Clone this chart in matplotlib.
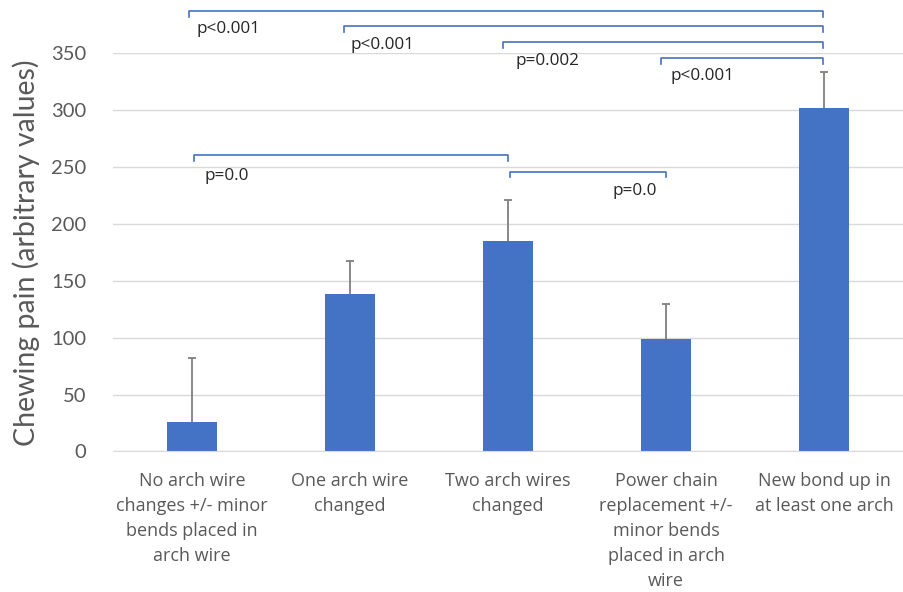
import numpy as np
import matplotlib.pyplot as plt

# data
categories = ["No arch wire\nchanges +/- minor\nbends placed in\narch wire",
              "One arch wire\nchanged",
              "Two arch wires\nchanged",
              "Power chain\nreplacement +/-\nminor bends\nplaced in arch\nwire",
              "New bond up in\nat least one arch"]
pain = [25.5, 138.5, 185, 99, 301.5]
err_up = [56.5, 29, 36, 31, 32]

# significance brackets: left x, right x, height, label, label x, label y
br_left = [-0.02, 0.96, 1.97, 2.97, 0.01, 2.01]
br_right = [3.99, 3.99, 3.99, 3.99, 2.0, 3.0]
br_y = [387, 374, 360, 346, 260.5, 246]
br_text = ["p<0.001", "p<0.001", "p=0.002", "p<0.001", "p=0.0", "p=0.0"]
txt_x = [0.03, 1.0, 2.05, 3.03, 0.08, 2.66]
txt_y = [371.5, 357.5, 343, 330, 242, 229]

blue = "#4472C4"
grey = "#595959"

fig = plt.figure(figsize=(9.04, 5.92), dpi=100)
ax = fig.add_axes([0.125, 0.2375, 0.874, 0.6725])

x = np.arange(len(categories))
ax.bar(x, pain, width=0.315, color=blue, zorder=2)
eb = ax.errorbar(x, pain, yerr=[np.zeros(len(pain)), err_up], fmt="none",
                 ecolor="#7f7f7f", elinewidth=1.3, capsize=3, capthick=1.3, zorder=3)
eb[1][0].set_visible(False)  # no cap on the lower side

ax.set_xlim(-0.5, 4.5)
ax.set_ylim(0, 350)
ax.set_yticks(range(0, 351, 50))
ax.yaxis.grid(True, color="#d9d9d9", lw=1)
ax.set_axisbelow(True)
for s in ["top", "right", "left"]:
    ax.spines[s].set_visible(False)
ax.spines["bottom"].set_color("#d9d9d9")
ax.tick_params(length=0)
ax.tick_params(axis="y", labelsize=14.5, labelcolor=grey, pad=19)
ax.set_yticklabels([str(v) for v in range(0, 351, 50)], family="Lato")
ax.set_xticks(x)
ax.set_xticklabels(categories, fontsize=13, color=grey, family="Open Sans",
                   linespacing=1.5, va="top")
ax.tick_params(axis="x", pad=15)
ax.set_ylabel("Chewing pain (arbitrary values)", fontsize=20.5, color=grey,
              family="Lato", labelpad=8)

tick = 5
for l, r, y, t, tx, ty in zip(br_left, br_right, br_y, br_text, txt_x, txt_y):
    ax.plot([l, l, r, r], [y - tick, y, y, y - tick], color=blue, lw=1.2,
            clip_on=False, zorder=4)
    ax.text(tx, ty, t, fontsize=12.3, color="#262626", family="Open Sans",
            ha="left", va="center", clip_on=False)

fig.savefig("out.png", dpi=100)
